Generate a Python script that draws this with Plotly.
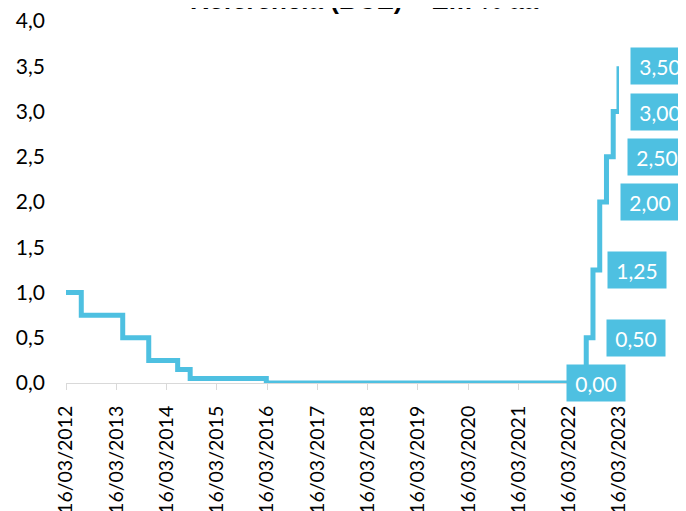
import plotly.graph_objects as go

# ECB main refinancing rate (% p.a.)
dates = ["2012-03-16", "2012-07-05", "2013-05-02", "2013-11-07", "2014-06-05",
         "2014-09-04", "2016-03-10", "2022-07-21", "2022-09-08", "2022-10-27",
         "2022-12-15", "2023-02-02", "2023-03-16"]
rates = [1.00, 0.75, 0.50, 0.25, 0.15, 0.05, 0.00, 0.50, 1.25, 2.00, 2.50, 3.00, 3.50]

tick_dates = [f"{y}-03-16" for y in range(2012, 2024)]
tick_labels = [f"16/03/{y}" for y in range(2012, 2024)]
y_ticks = [0.0, 0.5, 1.0, 1.5, 2.0, 2.5, 3.0, 3.5, 4.0]

label_dates = ["2022-07-21", "2022-07-21", "2022-09-08", "2022-10-27",
               "2022-12-15", "2023-02-02", "2023-03-16"]
label_values = [0.00, 0.50, 1.25, 2.00, 2.50, 3.00, 3.50]
label_xshift = [10, 50, 44, 50, 51, 47, 41]

BLUE = "#4EC0E1"
OFF = 8                      # default page body margin
W, H = 686 - OFF, 511 - OFF
L, R, T, B = 66 - OFF, 619 - OFF, 21 - OFF, 383 - OFF  # plot area edges

fig = go.Figure()
fig.add_trace(go.Scatter(
    x=dates, y=rates, mode="lines",
    line=dict(color=BLUE, width=5, shape="hv"),
    hoverinfo="skip", showlegend=False,
))

for d, v, dx in zip(label_dates, label_values, label_xshift):
    fig.add_annotation(
        x=d, y=v, xref="x", yref="y", xshift=dx,
        text=f"{v:.2f}".replace(".", ","), showarrow=False,
        font=dict(family="Lato", size=21, color="white"),
        bgcolor=BLUE, borderpad=0, width=58, height=36,
        xanchor="center", yanchor="middle",
    )

fig.add_annotation(
    x=(364 - OFF - L) / (R - L), xref="paper", y=1, yref="paper",
    yanchor="bottom", xanchor="center", yshift=4, showarrow=False,
    text="<b>Referência (BCE) – Em % aa</b>",
    font=dict(family="Liberation Sans", size=26, color="black"),
)

fig.update_layout(
    width=W, height=H,
    margin=dict(l=L, r=W - R, t=T, b=H - B, pad=0, autoexpand=False),
    paper_bgcolor="white", plot_bgcolor="white",
    separators=",.",
    font=dict(family="Lato", size=21, color="black"),
    xaxis=dict(
        type="date", range=["2012-03-16", "2023-03-16"], automargin=False,
        tickmode="array", tickvals=tick_dates, ticktext=tick_labels,
        tickangle=-90, showgrid=False, zeroline=False,
        showline=True, linecolor="#D9D9D9", linewidth=1,
        ticks="outside", ticklen=6, tickcolor="#D9D9D9",
        ticklabelstandoff=8, ticklabeloverflow="allow",
        tickfont=dict(family="Lato", size=19.5, color="black"),
    ),
    yaxis=dict(
        range=[0, 4], tickmode="array", tickvals=y_ticks, tickformat=".1f",
        automargin=False, ticklabeloverflow="allow",
        showgrid=False, zeroline=False, showline=False, ticks="",
        ticklabelstandoff=20,
        tickfont=dict(family="Lato", size=21, color="black"),
    ),
)

fig.write_html("out.html")
